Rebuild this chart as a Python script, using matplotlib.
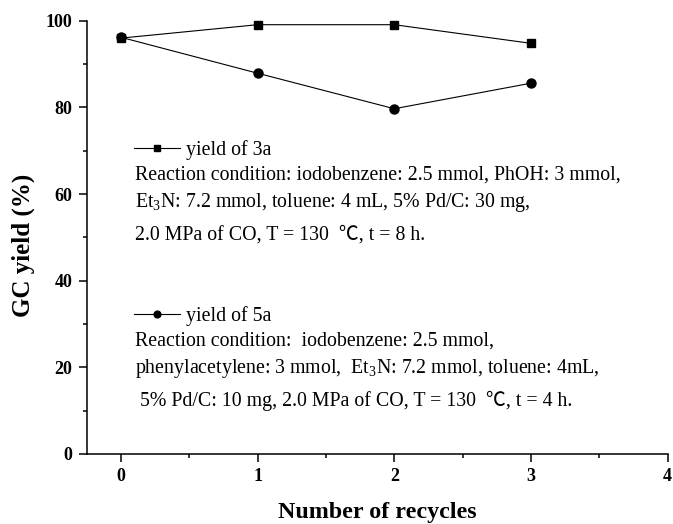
import matplotlib
matplotlib.use('Agg')
import matplotlib.pyplot as plt
from matplotlib.ticker import MultipleLocator

# data
recycles = [0, 1, 2, 3]
yield_3a = [96.0, 99.1, 99.1, 94.8]
yield_5a = [96.2, 87.9, 79.7, 85.6]

label_3a = 'yield of 3a'
label_5a = 'yield of 5a'
cond_3a = ['Reaction condition: iodobenzene: 2.5 mmol, PhOH: 3 mmol,',
           'Et$_{\\mathregular{3}}$N: 7.2 mmol, toluene: 4 mL, 5% Pd/C: 30 mg,',
           '2.0 MPa of CO, T = 130  \u2103, t = 8 h.']
cond_5a = ['Reaction condition:  iodobenzene: 2.5 mmol,',
           'phenylacetylene: 3 mmol,  Et$_{\\mathregular{3}}$N: 7.2 mmol, toluene: 4mL,',
           ' 5% Pd/C: 10 mg, 2.0 MPa of CO, T = 130  \u2103, t = 4 h.']

W, H = 673, 524
plt.rcParams['font.family'] = ['Liberation Serif', 'Noto Sans CJK SC']
plt.rcParams['mathtext.fontset'] = 'custom'
plt.rcParams['mathtext.rm'] = 'Liberation Serif'


def px(x, y):
    return x / W, 1 - y / H


fig = plt.figure(figsize=(W / 100, H / 100), dpi=100)
ax = fig.add_axes([86.7 / W, (H - 454) / H, 581 / W, 433.2 / H])

l3, = ax.plot(recycles, yield_3a, color='black', lw=0.8, marker='s',
              ms=5.5, clip_on=False, zorder=3)
l5, = ax.plot(recycles, yield_5a, color='black', lw=0.8, marker='o',
              ms=6.5, clip_on=False, zorder=3)

ax.set_xlim(-0.25, 4)
ax.set_ylim(0, 100)
ax.xaxis.set_major_locator(MultipleLocator(1))
ax.xaxis.set_minor_locator(MultipleLocator(0.5))
ax.yaxis.set_major_locator(MultipleLocator(20))
ax.yaxis.set_minor_locator(MultipleLocator(10))
for side in ['top', 'right']:
    ax.spines[side].set_visible(False)
for side in ['left', 'bottom']:
    ax.spines[side].set_linewidth(1.1)
ax.tick_params(which='major', direction='out', length=5.8, width=1.1,
               pad=4.5, labelsize=13)
ax.tick_params(which='minor', direction='out', length=3.1, width=1.1)
for lab in ax.get_xticklabels() + ax.get_yticklabels():
    lab.set_fontweight('bold')

ax.set_xlabel('Number of recycles', fontsize=17.3, fontweight='bold')
ax.set_ylabel('GC yield (%)', fontsize=18, fontweight='bold')
ax.xaxis.set_label_coords(0.5, -0.11)
ax.yaxis.set_label_coords(-0.0894, 0.4825)

leg_kw = dict(loc='lower left', frameon=False, fontsize=14.3, borderpad=0,
              borderaxespad=0, handlelength=2.3, handletextpad=0.3,
              markerscale=0.75, bbox_transform=fig.transFigure)
leg1 = ax.legend([l3], [label_3a], bbox_to_anchor=px(134, 160), **leg_kw)
ax.add_artist(leg1)
ax.legend([l5], [label_5a], bbox_to_anchor=px(134, 326), **leg_kw)

for txt, y in zip(cond_3a, [180, 207, 240]):
    fig.text(*px(135, y), txt, fontsize=14.3, va='baseline')
for txt, y in zip(cond_5a, [346, 373, 406]):
    fig.text(*px(135, y), txt, fontsize=14.3, va='baseline')

fig.savefig('out.png', dpi=100)
